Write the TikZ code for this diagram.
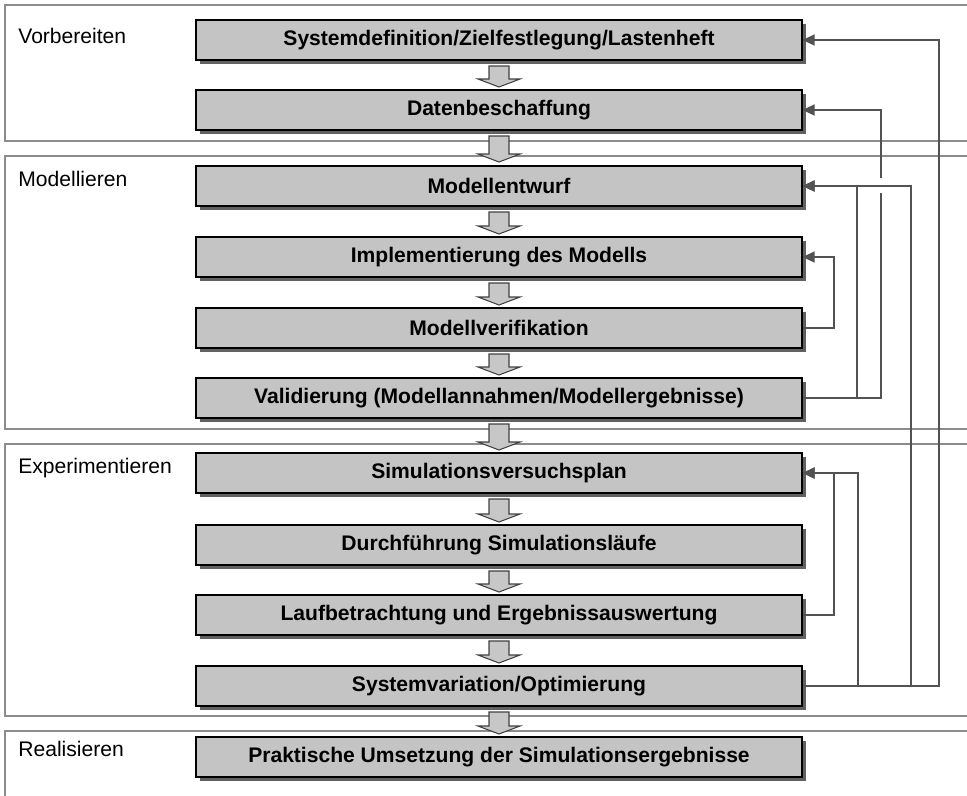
\documentclass[tikz,border=0pt]{standalone}
\usepackage{fontspec}
\setmainfont{Liberation Sans}
\usetikzlibrary{arrows.meta,shadows}

\tikzset{
  phase/.style={draw=black!45, line width=0.8pt},
  phaselabel/.style={anchor=base west, inner sep=0pt, font=\fontsize{12}{14}\selectfont},
  stage/.style={draw=black, line width=0.9pt, fill=black!23,
    minimum width=12.12cm, minimum height=0.8cm,
    font=\fontsize{12}{14}\selectfont\bfseries,
    drop shadow={shadow xshift=0.08cm, shadow yshift=-0.08cm, fill=black!62, opacity=1}},
  loop/.style={draw=black!68, line width=1.3pt},
  loopin/.style={loop, -{Triangle[length=2.4mm, width=2.2mm]}},
  blockarrow/.style={draw=black!75, fill=black!22, line width=0.6pt, line join=miter}
}

% hollow down arrow between two stages, x = 499
\newcommand{\downarr}[2]{%
  \draw[blockarrow] (489,#1) -- (509,#1) -- (509,#2-8) -- (520,#2-8) -- (499,#2)
    -- (478,#2-8) -- (489,#2-8) -- cycle;}

\begin{document}
\begin{tikzpicture}[x=0.02cm, y=-0.02cm]
  \useasboundingbox (0,0) rectangle (967,795);

  % phases
  \draw[phase] (990,5) -- (5,5) -- (5,141) -- (990,141);
  \draw[phase] (990,156) -- (5,156) -- (5,429) -- (990,429);
  \draw[phase] (990,444) -- (5,444) -- (5,716) -- (990,716);
  \draw[phase] (990,731) -- (5,731) -- (5,810);

  \node[phaselabel] (vorb) at (18,43) {Vorbereiten};
  \node[phaselabel] (mod) at (18,186) {Modellieren};
  \node[phaselabel] (exp) at (18,473) {Experimentieren};
  \node[phaselabel] (real) at (18,756) {Realisieren};

  % stages
  \node[stage] (sysdef) at (499,40) {Systemdefinition/Zielfestlegung/Lastenheft};
  \node[stage] (daten) at (499,110) {Datenbeschaffung};
  \node[stage] (entwurf) at (499,186) {Modellentwurf};
  \node[stage] (impl) at (499,257) {Implementierung des Modells};
  \node[stage] (verif) at (499,328) {Modellverifikation};
  \node[stage] (valid) at (499,398) {Validierung (Modellannahmen/Modellergebnisse)};
  \node[stage] (plan) at (499,473) {Simulationsversuchsplan};
  \node[stage] (lauf) at (499,545) {Durchführung Simulationsläufe};
  \node[stage] (auswert) at (499,615) {Laufbetrachtung und Ergebnissauswertung};
  \node[stage] (variation) at (499,686) {Systemvariation/Optimierung};
  \node[stage] (umsetz) at (499,757) {Praktische Umsetzung der Simulationsergebnisse};

  \downarr{66}{87}
  \downarr{136}{162}
  \downarr{212}{234}
  \downarr{283}{305}
  \downarr{354}{375}
  \downarr{424}{450}
  \downarr{499}{522}
  \downarr{571}{592}
  \downarr{641}{663}
  \downarr{712}{734}

  % feedback loops
  \draw[loopin] (verif.east) -- ++(31,0) |- (impl.east);
  \draw[loopin] (valid.east) -- ++(54,0) |- (entwurf.east);
  \draw[loop] (valid.east) -- ++(78,0) coordinate (back) -- (back |- 0,193);
  \draw[loopin] (back |- 0,178) |- (daten.east);
  \draw[loopin] (auswert.east) -- ++(31,0) |- (plan.east);
  \draw[loopin] (variation.east) -- ++(55,0) |- (plan.east);
  \draw[loopin] (variation.east) -- ++(108,0) |- (entwurf.east);
  \draw[loopin] (variation.east) -- ++(136,0) |- (sysdef.east);
\end{tikzpicture}
\end{document}
